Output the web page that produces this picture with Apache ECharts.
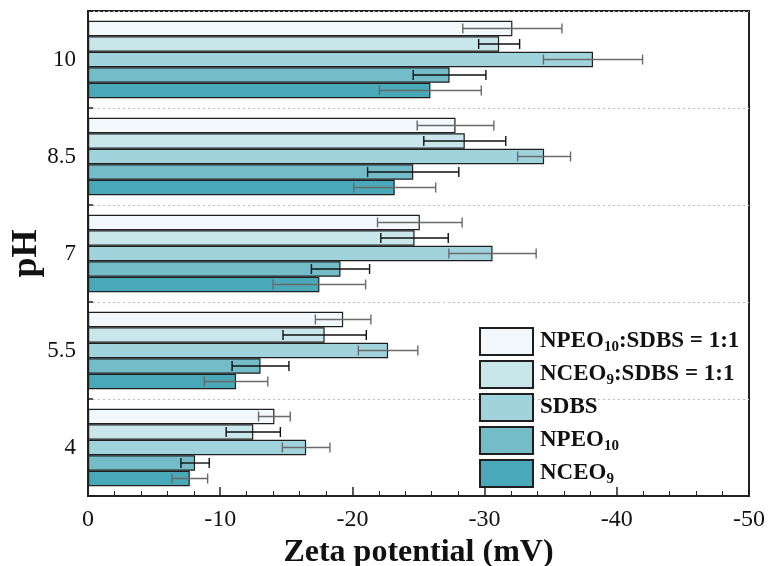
<!DOCTYPE html>
<html>
<head>
<meta charset="utf-8">
<script src="https://cdn.jsdelivr.net/npm/echarts@6/dist/echarts.min.js"></script>
<style>html,body{margin:0;padding:0;background:#fff}#c{width:772px;height:566px}</style>
</head>
<body>
<div id="c"></div>
<script>
var categories = ['4', '5.5', '7', '8.5', '10'];
var xTicks = [0, -10, -20, -30, -40, -50];
var seriesNames = ['NPEO10:SDBS = 1:1', 'NCEO9:SDBS = 1:1', 'SDBS', 'NPEO10', 'NCEO9'];
var npeoSdbs = [-14.1, -19.3, -25.1, -27.8, -32.1];
var npeoSdbsErr = [1.2, 2.1, 3.2, 2.9, 3.75];
var nceoSdbs = [-12.5, -17.9, -24.7, -28.5, -31.1];
var nceoSdbsErr = [2.05, 3.15, 2.55, 3.1, 1.55];
var sdbs = [-16.5, -22.7, -30.6, -34.5, -38.2];
var sdbsErr = [1.8, 2.25, 3.3, 2.0, 3.75];
var npeo = [-8.1, -13.05, -19.1, -24.6, -27.35];
var npeoErr = [1.07, 2.15, 2.2, 3.45, 2.75];
var nceo = [-7.7, -11.2, -17.5, -23.2, -25.9];
var nceoErr = [1.35, 2.4, 3.5, 3.1, 3.85];

var colors = ['#f2f8fb', '#c9e6ea', '#a0d3dc', '#74bcc7', '#4aa9b8'];
var errColors = ['#6a6a6a', '#111', '#6a6a6a', '#111', '#6a6a6a'];
var values = [npeoSdbs, nceoSdbs, sdbs, npeo, nceo];
var errs = [npeoSdbsErr, nceoSdbsErr, sdbsErr, npeoErr, nceoErr];

var serif = 'Liberation Serif';
var labelMap = {
  'NPEO10:SDBS = 1:1': '{n|NPEO}{s|10}{n|:SDBS = 1:1}',
  'NCEO9:SDBS = 1:1': '{n|NCEO}{s|9}{n|:SDBS = 1:1}',
  'SDBS': '{n|SDBS}',
  'NPEO10': '{n|NPEO}{s|10}',
  'NCEO9': '{n|NCEO}{s|9}'
};

var series = [];
for (var k = 0; k < seriesNames.length; k++) {
  series.push({
    type: 'bar', name: seriesNames[k], data: values[k],
    barGap: '0%', barCategoryGap: '20%',
    itemStyle: { color: colors[k], borderColor: '#1f1f1f', borderWidth: 1.2 },
    z: 2
  });
}
var errData = [];
for (var k2 = 0; k2 < seriesNames.length; k2++) {
  for (var c = 0; c < categories.length; c++) {
    errData.push([values[k2][c], c, k2, errs[k2][c]]);
  }
}
series.push({
  type: 'custom', name: 'err', data: errData, z: 5,
  encode: { x: 0, y: 1 },
  renderItem: function (params, api) {
    var v = api.value(0), c = api.value(1), k = api.value(2), e = api.value(3);
    var band = api.size([0, 1])[1];
    var center = api.coord([v, c])[1];
    var y = center - 0.4 * band + (k + 0.5) * 0.16 * band;
    var x1 = api.coord([v - e, c])[0];
    var x2 = api.coord([v + e, c])[0];
    var h = 5;
    var st = { stroke: errColors[k], lineWidth: 1.4 };
    return { type: 'group', children: [
      { type: 'line', shape: { x1: x1, y1: y, x2: x2, y2: y }, style: st },
      { type: 'line', shape: { x1: x1, y1: y - h, x2: x1, y2: y + h }, style: st },
      { type: 'line', shape: { x1: x2, y1: y - h, x2: x2, y2: y + h }, style: st }
    ]};
  }
});

var chart = echarts.init(document.getElementById('c'));
chart.setOption({
  animation: false,
  grid: { left: 88, right: 23, top: 11, bottom: 70, show: true, borderColor: '#222', borderWidth: 2, backgroundColor: 'transparent', containLabel: false, outerBoundsMode: 'none' },
  legend: {
    data: seriesNames, orient: 'vertical', left: 479, top: 327, padding: 0,
    icon: 'rect', itemWidth: 53, itemHeight: 27, itemGap: 4,
    formatter: function (n) { return labelMap[n]; },
    textStyle: {
      padding: [0, 0, 0, 2],
      rich: {
        n: { fontFamily: serif, fontWeight: 'bold', fontSize: 23, color: '#111', lineHeight: 27 },
        s: { fontFamily: serif, fontWeight: 'bold', fontSize: 15, color: '#111', lineHeight: 27, padding: [12, 0, 0, 0] }
      }
    }
  },
  xAxis: {
    type: 'value', inverse: true, min: -50, max: 0, interval: 10,
    name: 'Zeta potential (mV)', nameLocation: 'middle', nameGap: 40,
    nameTextStyle: { fontFamily: serif, fontWeight: 'bold', fontSize: 32, color: '#111' },
    axisLine: { show: true, lineStyle: { color: '#222', width: 2 } },
    axisTick: { show: true, inside: true, length: 9, lineStyle: { color: '#222', width: 1.5 } },
    minorTick: { show: true, splitNumber: 5, length: 5, lineStyle: { color: '#222', width: 1 } },
    splitLine: { show: false },
    axisLabel: { fontFamily: serif, fontSize: 24, color: '#111', margin: 12,
      formatter: function (v) { return xTicks.indexOf(v) >= 0 ? String(v) : ''; } }
  },
  yAxis: {
    type: 'category', data: categories,
    name: 'pH', nameLocation: 'middle', nameGap: 43, nameRotate: 90, nameMoveOverlap: false,
    nameTextStyle: { fontFamily: serif, fontWeight: 'bold', fontSize: 36, color: '#111' },
    axisLine: { show: true, lineStyle: { color: '#222', width: 2 } },
    axisTick: { show: true, inside: true, length: 5, lineStyle: { color: '#222', width: 1.5 } },
    splitLine: { show: true, lineStyle: { color: '#bdbdbd', type: [2, 3], width: 1 } },
    axisLabel: { fontFamily: serif, fontSize: 23, color: '#111', margin: 12 }
  },
  series: series
});
</script>
</body>
</html>
